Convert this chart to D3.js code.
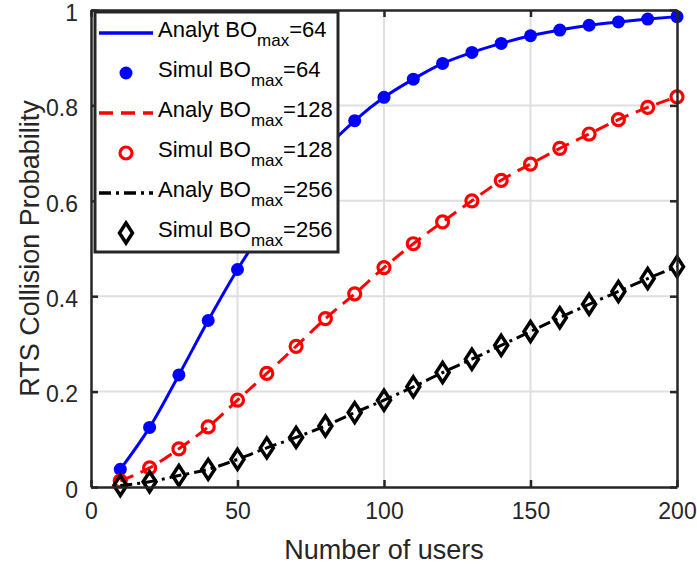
<!DOCTYPE html>
<html>
<head>
<meta charset="utf-8">
<script src="https://cdn.jsdelivr.net/npm/d3@7"></script>
<style>
  body { margin: 0; background: #fff; }
  svg { display: block; font-family: "Liberation Sans", Arial, sans-serif; }
</style>
</head>
<body>
<div id="chart"></div>
<script>
// users on the x axis
const users = [10, 20, 30, 40, 50, 60, 70, 80, 90, 100, 110, 120, 130, 140, 150, 160, 170, 180, 190, 200];

// collision probability, BOmax = 64
const bo64 = [0.037, 0.125, 0.235, 0.349, 0.456, 0.55, 0.635, 0.708, 0.768, 0.817, 0.855, 0.888, 0.911, 0.93, 0.946, 0.958, 0.968, 0.975, 0.981, 0.986];
// BOmax = 128
const bo128 = [0.013, 0.04, 0.08, 0.126, 0.182, 0.238, 0.295, 0.353, 0.405, 0.46, 0.51, 0.556, 0.6, 0.643, 0.677, 0.71, 0.74, 0.77, 0.796, 0.818];
// BOmax = 256
const bo256 = [0.003, 0.011, 0.024, 0.037, 0.058, 0.082, 0.104, 0.128, 0.156, 0.182, 0.21, 0.24, 0.268, 0.297, 0.326, 0.355, 0.383, 0.41, 0.437, 0.462];

const xTicks = [0, 50, 100, 150, 200];
const xTickLabels = ["0", "50", "100", "150", "200"];
const yTicks = [0, 0.2, 0.4, 0.6, 0.8, 1];
const yTickLabels = ["0", "0.2", "0.4", "0.6", "0.8", "1"];

const legendNames = [
  ["Analyt BO", "=64"],
  ["Simul BO", "=64"],
  ["Analy BO", "=128"],
  ["Simul BO", "=128"],
  ["Analy BO", "=256"],
  ["Simul BO", "=256"]
];

const width = 697;
const height = 569;
const marginTop = 10;
const marginRight = 20;
const marginBottom = 82;
const marginLeft = 91;
const axisColor = "#262626";

const x = d3.scaleLinear().domain([0, 200]).range([marginLeft, width - marginRight]);
const y = d3.scaleLinear().domain([0, 1]).range([height - marginBottom, marginTop]);

const svg = d3.select("#chart").append("svg")
  .attr("width", width)
  .attr("height", height)
  .attr("viewBox", [0, 0, width, height]);

// grid
svg.append("g")
  .attr("stroke", "#dfdfdf")
  .attr("stroke-width", 2)
  .call(g => g.selectAll(".gx").data(xTicks.slice(1, -1)).join("line")
    .attr("x1", d => x(d)).attr("x2", d => x(d))
    .attr("y1", y(0)).attr("y2", y(1)))
  .call(g => g.selectAll(".gy").data(yTicks.slice(1, -1)).join("line")
    .attr("class", "gy")
    .attr("x1", x(0)).attr("x2", x(200))
    .attr("y1", d => y(d)).attr("y2", d => y(d)));

// series
const series = [
  { values: bo64, color: "#0000ff", dash: null, marker: "dot" },
  { values: bo128, color: "#ff0000", dash: "14,8", marker: "circle" },
  { values: bo256, color: "#000000", dash: "12,5,3,5", marker: "diamond" }
];

const line = d3.line()
  .x((d, i) => x(users[i]))
  .y(d => y(d))
  .curve(d3.curveMonotoneX);

const diamond = "M0,-10L6.5,0L0,10L-6.5,0Z";

function drawMarker(sel, s) {
  if (s.marker === "dot") {
    sel.append("circle").attr("r", 6.5).attr("fill", s.color);
  } else if (s.marker === "circle") {
    sel.append("circle").attr("r", 6).attr("fill", "none")
      .attr("stroke", s.color).attr("stroke-width", 3.2);
  } else {
    sel.append("path").attr("d", diamond).attr("fill", "none")
      .attr("stroke", s.color).attr("stroke-width", 3.5);
  }
}

series.forEach(s => {
  svg.append("path")
    .attr("d", line(s.values))
    .attr("fill", "none")
    .attr("stroke", s.color)
    .attr("stroke-width", 3)
    .attr("stroke-dasharray", s.dash);
  svg.append("g").selectAll("g")
    .data(s.values)
    .join("g")
    .attr("transform", (d, i) => `translate(${x(users[i])},${y(d)})`)
    .each(function() { drawMarker(d3.select(this), s); });
});

// axes: frame with inward ticks
svg.append("g")
  .attr("transform", `translate(0,${y(0)})`)
  .call(d3.axisBottom(x).tickValues(xTicks).tickSizeInner(-7).tickSizeOuter(0)
    .tickPadding(16).tickFormat((d, i) => xTickLabels[i]));
svg.append("g")
  .attr("transform", `translate(${x(0)},0)`)
  .call(d3.axisLeft(y).tickValues(yTicks).tickSizeInner(-7).tickSizeOuter(0)
    .tickPadding(13).tickFormat((d, i) => yTickLabels[i]))
  .call(g => g.selectAll(".tick text").attr("dy", "0.45em"));
svg.append("g")
  .attr("transform", `translate(0,${y(1)})`)
  .call(d3.axisTop(x).tickValues(xTicks).tickSizeInner(-7).tickSizeOuter(0).tickFormat(""));
svg.append("g")
  .attr("transform", `translate(${x(200)},0)`)
  .call(d3.axisRight(y).tickValues(yTicks).tickSizeInner(-7).tickSizeOuter(0).tickFormat(""));

svg.selectAll(".domain").attr("stroke", axisColor).attr("stroke-width", 2.5);
svg.selectAll(".tick line").attr("stroke", axisColor).attr("stroke-width", 2.5);
svg.selectAll(".tick text")
  .attr("fill", axisColor)
  .attr("font-size", 23)
  .attr("font-family", "Liberation Sans, Arial, sans-serif");

svg.append("text")
  .attr("x", (x(0) + x(200)) / 2)
  .attr("y", 559)
  .attr("text-anchor", "middle")
  .attr("font-size", 27)
  .attr("fill", axisColor)
  .text("Number of users");

svg.append("text")
  .attr("transform", `translate(39,${(y(0) + y(1)) / 2}) rotate(-90)`)
  .attr("text-anchor", "middle")
  .attr("font-size", 27)
  .attr("fill", axisColor)
  .text("RTS Collision Probability");

// legend
const legend = svg.append("g");
legend.append("rect")
  .attr("x", 95).attr("y", 12)
  .attr("width", 243).attr("height", 240)
  .attr("fill", "#fff")
  .attr("stroke", axisColor)
  .attr("stroke-width", 3);

const legendItems = [
  { s: series[0], kind: "line" },
  { s: series[0], kind: "marker" },
  { s: series[1], kind: "line" },
  { s: series[1], kind: "marker" },
  { s: series[2], kind: "line" },
  { s: series[2], kind: "marker" }
];

legendItems.forEach((item, i) => {
  const cy = 33 + i * 40;
  const row = legend.append("g").attr("transform", `translate(0,${cy})`);
  if (item.kind === "line") {
    row.append("line")
      .attr("x1", 99).attr("x2", 153)
      .attr("stroke", item.s.color)
      .attr("stroke-width", 3.5)
      .attr("stroke-dasharray", item.s.dash);
  } else {
    const m = row.append("g").attr("transform", "translate(126,0)");
    drawMarker(m, item.s);
  }
  const t = row.append("text")
    .attr("x", 158)
    .attr("y", 4)
    .attr("font-size", 22)
    .attr("fill", "#000");
  t.append("tspan").text(legendNames[i][0]);
  t.append("tspan").attr("dy", 9).attr("font-size", 17).text("max");
  t.append("tspan").attr("dy", -9).text(legendNames[i][1]);
});
</script>
</body>
</html>
